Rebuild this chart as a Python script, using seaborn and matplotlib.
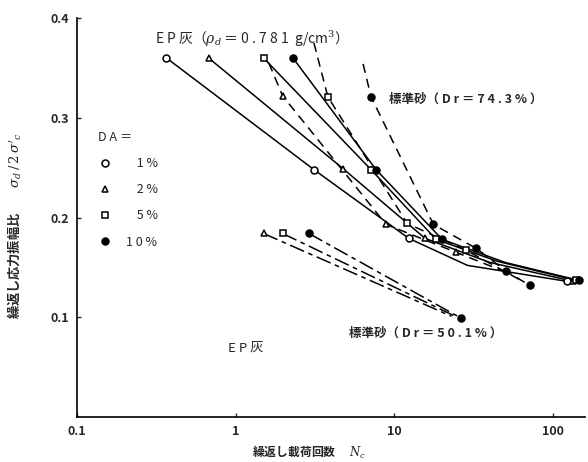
import numpy as np
import pandas as pd
import seaborn as sns
import matplotlib.pyplot as plt
from matplotlib.lines import Line2D

sns.set_theme(style="ticks")
plt.rcParams['font.family'] = ['Noto Sans CJK JP', 'DejaVu Sans']
plt.rcParams['mathtext.fontset'] = 'dejavuserif'

# DA = 1, 2, 5, 10 %
da_labels = ['\u2007 1 %', '\u2007 2 %', '\u2007 5 %', '1 0 %']
da_markers = ['o', '^', 's', 'o']
da_filled = [False, False, False, True]

# EP灰 (solid lines); mark lists flag which points carry a symbol
ep_nc = [[0.366, 3.12, 12.4, 29, 123],
         [0.675, 4.76, 15.7, 40, 135],
         [1.50, 7.15, 18.4, 45, 140],
         [2.30, 7.69, 20.1, 50, 146]]
ep_ratio = [[0.360, 0.248, 0.179, 0.152, 0.136],
            [0.360, 0.249, 0.179, 0.155, 0.136],
            [0.360, 0.248, 0.178, 0.156, 0.137],
            [0.360, 0.248, 0.178, 0.155, 0.137]]
ep_mark = [[1, 1, 1, 0, 1],
           [1, 1, 1, 0, 1],
           [1, 1, 1, 0, 1],
           [1, 1, 1, 0, 1]]

# 標準砂 Dr=74.3% (dashed), DA = 2, 5, 10 %
s74_da = [1, 2, 3]
s74_nc = [[1.62, 1.98, 8.9, 24.7, 51],
          [3.12, 3.82, 12.1, 28.6, 63],
          [6.37, 7.15, 17.7, 33, 51, 71.5]]
s74_ratio = [[0.355, 0.322, 0.193, 0.165, 0.145],
             [0.375, 0.321, 0.194, 0.167, 0.137],
             [0.354, 0.321, 0.193, 0.169, 0.146, 0.132]]
s74_mark = [[0, 1, 1, 1, 0],
            [0, 1, 1, 1, 0],
            [0, 1, 1, 1, 1, 1]]

# 標準砂 Dr=50.1% (dash-dot), DA = 2, 5, 10 %
s50_da = [1, 2, 3]
s50_nc = [[1.50, 23], [1.98, 25], [2.90, 26.5]]
s50_ratio = [[0.184, 0.101], [0.184, 0.100], [0.184, 0.099]]
s50_mark = [[1, 0], [1, 0], [1, 1]]

fig = plt.figure(figsize=(5.88, 4.62), dpi=100)
ax = fig.add_axes([0.131, 0.0974, 0.864, 0.8636])


def draw(nc, ratio, mark, da, dashes):
    df = pd.DataFrame({'nc': nc, 'ratio': ratio, 'mark': mark})
    sns.lineplot(data=df, x='nc', y='ratio', sort=False, estimator=None,
                 color='black', lw=1.1, ax=ax)
    if dashes is not None:
        ax.lines[-1].set_dashes(dashes)
    pts = df[df['mark'] == 1]
    ax.plot(pts['nc'], pts['ratio'], ls='none', marker=da_markers[da],
            ms=5, mew=1.1, mec='black',
            mfc='black' if da_filled[da] else 'white', zorder=3)


for i in range(4):
    draw(ep_nc[i], ep_ratio[i], ep_mark[i], i, None)
for i, da in enumerate(s74_da):
    draw(s74_nc[i], s74_ratio[i], s74_mark[i], da, (6, 4))
for i, da in enumerate(s50_da):
    draw(s50_nc[i], s50_ratio[i], s50_mark[i], da, (10, 3, 3, 3))

ax.set_xscale('log')
ax.set_xlim(0.1, 160)
ax.set_ylim(0, 0.4)
ax.set_xticks([0.1, 1, 10, 100])
ax.set_xticklabels(['0.1', '1', '10', '100'])
ax.set_yticks([0.1, 0.2, 0.3, 0.4])
ax.set_yticklabels(['0.1', '0.2', '0.3', '0.4'])
ax.minorticks_off()
ax.tick_params(direction='in', length=3, width=1, labelsize=9, pad=6)
for lab in ax.get_xticklabels() + ax.get_yticklabels():
    lab.set_fontweight('bold')
sns.despine(ax=ax)
for s in ['left', 'bottom']:
    ax.spines[s].set_linewidth(1.2)
    ax.spines[s].set_color('black')

ax.set_xlabel('繰返し載荷回数　 $N_c$', fontsize=8.5, fontweight='bold')
ax.xaxis.set_label_coords(0.457, -0.068)
ax.set_ylabel("繰返し応力振幅比　　$\\sigma_d\\,/\\,2\\,\\sigma'_c$",
              fontsize=9.5, fontweight='bold')
ax.yaxis.set_label_coords(-0.105, 0.48)

ax.text(0.312, 0.379, 'E P 灰（$\\rho_d$ ＝ 0 . 7 8 1  g/cm$^3$）',
        fontsize=10, va='center')
ax.text(9.3, 0.319, '標準砂（ D r ＝ 7 4 . 3 % ）', fontsize=9,
        fontweight='bold', va='center')
ax.text(5.19, 0.084, '標準砂（ D r ＝ 5 0 . 1 % ）', fontsize=9,
        fontweight='bold', va='center')
ax.text(0.90, 0.069, 'E P 灰', fontsize=9.5, va='center')

handles = [Line2D([], [], ls='none', marker=da_markers[i], ms=5, mew=1.1,
                  mec='black', mfc='black' if da_filled[i] else 'white')
           for i in range(4)]
leg = ax.legend(handles, da_labels, title='D A ＝', loc='upper left',
                bbox_to_anchor=(0.02, 0.745), frameon=False, fontsize=9,
                title_fontsize=9, labelspacing=1.05, handlelength=1.0,
                handletextpad=1.2, alignment='left')

fig.savefig('out.png', dpi=100)
